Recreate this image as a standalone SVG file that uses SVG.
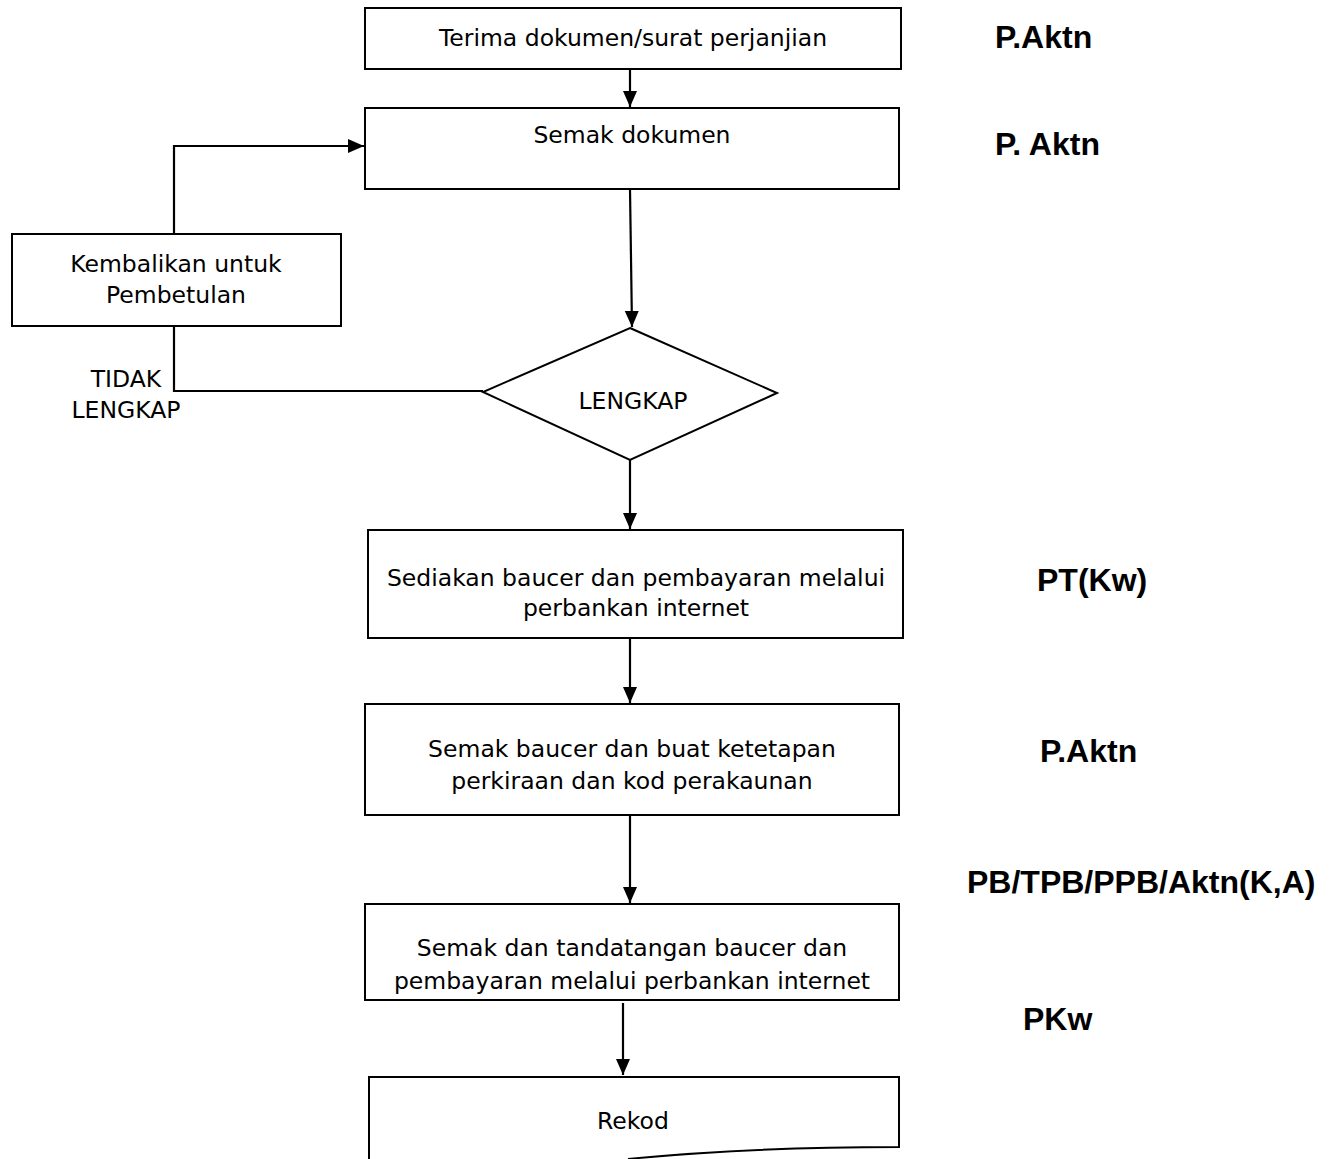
<svg xmlns="http://www.w3.org/2000/svg" width="1330" height="1159" viewBox="0 0 1330 1159">
<defs>
<style>
.box{fill:#fff;stroke:#000;stroke-width:2}
.ln{fill:none;stroke:#000;stroke-width:2.2}
.t{font-family:"DejaVu Sans",Verdana,sans-serif;font-size:23.5px;fill:#000;text-anchor:middle}
.r{font-family:"Liberation Sans",Arial,sans-serif;font-size:32px;font-weight:bold;fill:#000}
</style>
<marker id="ah2" markerWidth="16" markerHeight="16" refX="16" refY="8" orient="auto" markerUnits="userSpaceOnUse" viewBox="0 0 16 16">
<path d="M0,1 L16,8 L0,15 z" fill="#000"/>
</marker>
</defs>
<rect width="1330" height="1159" fill="#fff"/>
<g id="connectors">
<line class="ln" x1="630" y1="69" x2="630" y2="107" marker-end="url(#ah2)"/>
<polyline class="ln" points="174,234 174,146 364,146" marker-end="url(#ah2)"/>
<line class="ln" x1="630" y1="189" x2="632" y2="327" marker-end="url(#ah2)"/>
<polyline class="ln" points="483,391 174,391 174,326"/>
<line class="ln" x1="630" y1="460" x2="630" y2="529" marker-end="url(#ah2)"/>
<line class="ln" x1="630" y1="638" x2="630" y2="703" marker-end="url(#ah2)"/>
<line class="ln" x1="630" y1="815" x2="630" y2="903" marker-end="url(#ah2)"/>
<line class="ln" x1="623" y1="1003" x2="623" y2="1075" marker-end="url(#ah2)"/>
</g>
<g id="n1"><rect class="box" x="365" y="8" width="536" height="61"/><text class="t" x="633" y="46">Terima dokumen/surat perjanjian</text></g>
<g id="n2"><rect class="box" x="365" y="108" width="534" height="81"/><text class="t" x="632" y="143">Semak dokumen</text></g>
<g id="n3"><rect class="box" x="12" y="234" width="329" height="92"/><text class="t" x="176" y="272">Kembalikan untuk</text><text class="t" x="176" y="303">Pembetulan</text></g>
<g id="lbl-tidak"><text class="t" x="126" y="387">TIDAK</text><text class="t" x="126" y="418">LENGKAP</text></g>
<g id="n4"><polygon class="box" points="630,328 777,393 630,460 483,392"/><text class="t" x="633" y="409">LENGKAP</text></g>
<g id="n5"><rect class="box" x="368" y="530" width="535" height="108"/><text class="t" x="636" y="586">Sediakan baucer dan pembayaran melalui</text><text class="t" x="636" y="616">perbankan internet</text></g>
<g id="n6"><rect class="box" x="365" y="704" width="534" height="111"/><text class="t" x="632" y="757">Semak baucer dan buat ketetapan</text><text class="t" x="632" y="789">perkiraan dan kod perakaunan</text></g>
<g id="n7"><rect class="box" x="365" y="904" width="534" height="96"/><text class="t" x="632" y="956">Semak dan tandatangan baucer dan</text><text class="t" x="632" y="989">pembayaran melalui perbankan internet</text></g>
<g id="n8"><path class="box" d="M369,1162 L369,1077 L899,1077 L899,1147 C820,1147 720,1150 628,1159"/><text class="t" x="633" y="1129">Rekod</text></g>
<g id="roles">
<text class="r" x="995" y="48">P.Aktn</text>
<text class="r" x="995" y="155">P. Aktn</text>
<text class="r" x="1037" y="591">PT(Kw)</text>
<text class="r" x="1040" y="762">P.Aktn</text>
<text class="r" x="967" y="893">PB/TPB/PPB/Aktn(K,A)</text>
<text class="r" x="1023" y="1030">PKw</text>
</g>
</svg>
